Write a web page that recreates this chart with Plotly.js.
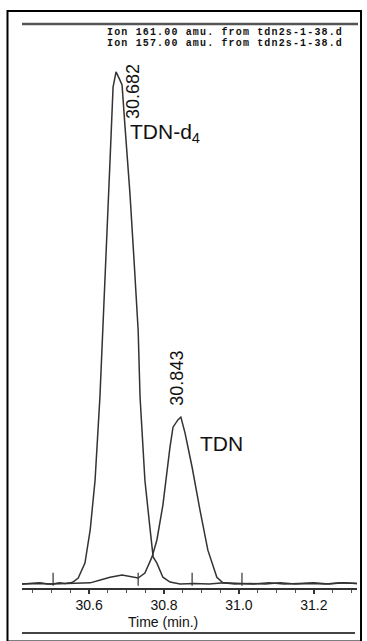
<!DOCTYPE html>
<html>
<head>
<meta charset="utf-8">
<script src="https://cdn.plot.ly/plotly-3.0.1.min.js"></script>
<style>
html,body{margin:0;padding:0;background:#fff;}
#chart{width:367px;height:641px;}
.annotation[data-index="0"] text, .annotation[data-index="1"] text {letter-spacing:1.15px;}
</style>
</head>
<body>
<div id="chart"></div>
<script>
// Ion 161 (TDN-d4) trace
var timeD4 = [30.421,30.445,30.469,30.490,30.504,30.520,30.536,30.550,30.557,30.571,30.589,30.603,30.616,30.629,30.637,30.648,30.656,30.664,30.672,30.680,30.688,30.696,30.709,30.720,30.731,30.736,30.749,30.763,30.771,30.781,30.797,30.816,30.843,30.880,30.920,30.960,31.000,31.040,31.080,31.120,31.160,31.200,31.240,31.280,31.315];
var abundD4 = [0.0,0.1,0.2,0.0,0.0,0.2,0.1,0.2,0.35,1.06,3.7,9.6,18.4,33.2,45.0,63.3,75.2,88.1,90.8,89.7,88.5,81.0,69.3,57.4,45.0,33.2,18.4,9.6,4.8,3.7,1.2,0.35,0.0,0.1,0.0,0.2,0.1,0.0,0.2,0.0,0.1,0.2,0.0,0.2,0.1];
// Ion 157 (TDN) trace
var timeTDN = [30.421,30.460,30.500,30.540,30.580,30.603,30.630,30.656,30.688,30.715,30.731,30.749,30.768,30.781,30.797,30.816,30.824,30.837,30.845,30.856,30.875,30.896,30.917,30.941,30.957,30.989,31.030,31.070,31.110,31.150,31.190,31.230,31.270,31.315];
var abundTDN = [0.0,0.1,0.0,0.1,0.1,0.2,0.7,1.2,1.6,1.2,1.06,1.95,4.8,7.8,14.0,24.3,27.8,29.1,29.6,26.8,20.7,13.1,6.0,1.2,0.2,0.0,0.1,0.0,0.2,0.0,0.1,0.0,0.2,0.1];
// integration markers (min)
var markerTimes = [30.504, 30.731, 30.875, 31.008];
// tick labels
var tickVals = [30.6, 30.8, 31.0, 31.2];
var tickText = ['30.6', '30.8', '31.0', '31.2'];
var headerLines = ['Ion 161.00 amu. from tdn2s-1-38.d', 'Ion 157.00 amu. from tdn2s-1-38.d'];
var peakLabels = ['30.682', '30.843'];
var compoundLabels = ['TDN-d<sub>4</sub>', 'TDN'];
var xTitle = 'Time (min.)';

var lineColor = '#333333';
var traces = [
  {x: timeD4, y: abundD4, type: 'scatter', mode: 'lines', line: {color: lineColor, width: 1.5}, hoverinfo: 'skip'},
  {x: timeTDN, y: abundTDN, type: 'scatter', mode: 'lines', line: {color: lineColor, width: 1.5}, hoverinfo: 'skip'}
];

var shapes = [];
markerTimes.forEach(function (t) {
  shapes.push({type: 'line', xref: 'x', yref: 'y', x0: t, x1: t, y0: -0.3, y1: 2.0, line: {color: lineColor, width: 1.2}});
});
// outer frame
shapes.push({type: 'rect', xref: 'paper', yref: 'paper', x0: -0.0433, x1: 1.012, y0: -0.095, y1: 1.023, line: {color: '#000', width: 2}});
// top rule
shapes.push({type: 'line', xref: 'paper', yref: 'paper', x0: 0, x1: 1.003, y0: 1.0, y1: 1.0, line: {color: '#555', width: 2.5}});
// bottom rule
shapes.push({type: 'line', xref: 'paper', yref: 'paper', x0: 0, x1: 0.994, y0: -0.0798, y1: -0.0798, line: {color: '#444', width: 2}});

var headFont = {family: 'Liberation Mono', size: 10, color: '#111', weight: 'bold'};
var annotations = [
  {xref: 'paper', yref: 'paper', x: 0.606, y: 0.985, xanchor: 'center', yanchor: 'middle', text: headerLines[0], showarrow: false, font: headFont},
  {xref: 'paper', yref: 'paper', x: 0.606, y: 0.965, xanchor: 'center', yanchor: 'middle', text: headerLines[1], showarrow: false, font: headFont},
  {xref: 'x', yref: 'y', x: 30.717, y: 87.4, text: peakLabels[0], textangle: -90, showarrow: false, font: {family: 'Liberation Sans, Arial', size: 18, color: '#111'}},
  {xref: 'x', yref: 'y', x: 30.836, y: 36.5, text: peakLabels[1], textangle: -90, showarrow: false, font: {family: 'Liberation Sans, Arial', size: 18, color: '#111'}},
  {xref: 'x', yref: 'y', x: 30.704, y: 80.0, xanchor: 'left', yanchor: 'middle', text: compoundLabels[0], showarrow: false, font: {family: 'Liberation Sans, Arial', size: 21, color: '#111'}},
  {xref: 'x', yref: 'y', x: 30.891, y: 25.0, xanchor: 'left', yanchor: 'middle', text: compoundLabels[1], showarrow: false, font: {family: 'Liberation Sans, Arial', size: 21, color: '#111'}},
  {xref: 'paper', yref: 'paper', x: 0.42, y: -0.060, xanchor: 'center', yanchor: 'middle', text: xTitle, showarrow: false, font: {family: 'Liberation Sans, Arial', size: 14, color: '#111'}}
];

var layout = {
  width: 367, height: 641,
  margin: {l: 22, r: 10, t: 24, b: 53, pad: 0},
  paper_bgcolor: '#fff', plot_bgcolor: '#fff',
  showlegend: false,
  xaxis: {
    range: [30.421, 31.315], showgrid: false, zeroline: false,
    showline: true, linecolor: '#333', linewidth: 1.5,
    ticks: 'outside', ticklen: 4, tickwidth: 1.2, tickcolor: '#333',
    tickvals: tickVals, ticktext: tickText,
    tickfont: {family: 'Liberation Sans, Arial', size: 14, color: '#111'},
    minor: {dtick: 0.05, tick0: 30.4, ticks: 'outside', ticklen: 3, tickcolor: '#555', tickwidth: 1},
    fixedrange: true
  },
  yaxis: {
    range: [-0.71, 99.29], visible: false, showgrid: false, zeroline: false, fixedrange: true
  },
  shapes: shapes,
  annotations: annotations
};

Plotly.newPlot('chart', traces, layout, {staticPlot: true, displayModeBar: false});
</script>
</body>
</html>
